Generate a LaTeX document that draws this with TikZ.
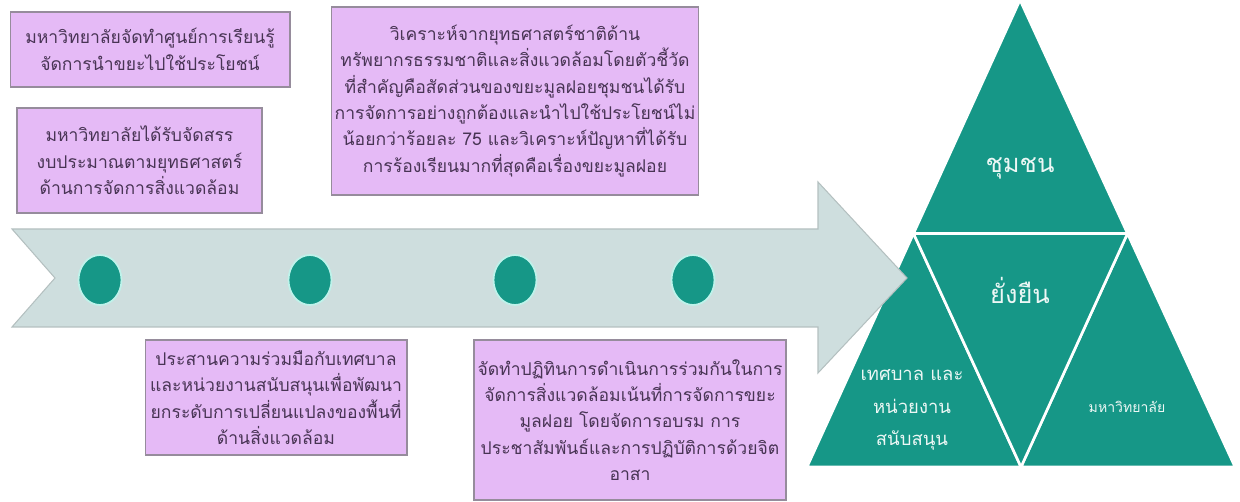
\documentclass[tikz,border=0pt]{standalone}
\usepackage{fontspec}
\newfontfamily\thaifont[Script=Thai]{Loma}
\usetikzlibrary{positioning,shapes.geometric}
\definecolor{cBox}{RGB}{229,186,246}
\definecolor{cBoxLine}{RGB}{150,140,156}
\definecolor{cText}{RGB}{72,52,84}
\definecolor{cTeal}{RGB}{22,151,135}
\definecolor{cRing}{RGB}{190,242,234}
\definecolor{cArrow}{RGB}{206,222,222}
\definecolor{cArrowLine}{RGB}{180,192,192}

\begin{document}
\begin{tikzpicture}[x=0.02cm,y=-0.02cm,
   plan/.style={draw=cBoxLine,fill=cBox,line width=0.6pt,align=center,text=cText,inner sep=2pt,
     font=\thaifont\fontsize{10}{15}\selectfont},
   milestone/.style={ellipse,draw=cRing,fill=cTeal,line width=1pt,minimum width=0.86cm,minimum height=1cm,inner sep=0pt},
   tri/.style={fill=cTeal,draw=white,line width=1.5pt,line join=miter},
   lbl/.style={text=white!92!cTeal,align=center,font=\thaifont\fontsize{14.5}{19}\selectfont}]
  \useasboundingbox (0,0) rectangle (1240,502);
  % Pyramid
  \coordinate (top) at (1020,0);
  \coordinate (bl) at (807,467);
  \coordinate (br) at (1235,467);
  \coordinate (ml) at (913.5,233.5);
  \coordinate (mr) at (1127.5,233.5);
  \coordinate (mb) at (1021,467);
  \draw[tri] (top) -- (ml) -- (mr) -- cycle;
  \draw[tri] (ml) -- (bl) -- (mb) -- cycle;
  \draw[tri] (mr) -- (mb) -- (br) -- cycle;
  \draw[tri] (ml) -- (mr) -- (mb) -- cycle;
  \node[lbl] (comm) at (1020,168) {ชุมชน};
  \node[lbl] (sust) at (1020,290) {ยั่งยืน};
  \node[lbl,font=\thaifont\fontsize{10.5}{18.5}\selectfont] (muni) at (912,410) {เทศบาล และ\\หน่วยงาน\\สนับสนุน};
  \node[lbl,font=\thaifont\fontsize{8}{10}\selectfont] (univ) at (1127,407) {มหาวิทยาลัย};
  % Timeline arrow
  \draw[fill=cArrow,draw=cArrowLine,line width=0.6pt]
    (12,229) -- (818,229) -- (818,182) -- (907,278) -- (818,373) -- (818,327) -- (12,327) -- (55,278) -- cycle;
  \foreach \x [count=\i] in {100,310,515,693}
    \node[milestone] (m\i) at (\x,280) {};
  % Steps above
  \node[plan,minimum width=5.6cm,minimum height=1.5cm] (s1) at (150,49.5)
    {มหาวิทยาลัยจัดทำศูนย์การเรียนรู้\\จัดการนำขยะไปใช้ประโยชน์};
  \node[plan,minimum width=4.9cm,minimum height=2.1cm] (s2) at (139.5,160.5)
    {มหาวิทยาลัยได้รับจัดสรร\\งบประมาณตามยุทธศาสตร์\\ด้านการจัดการสิ่งแวดล้อม};
  \node[plan,minimum width=7.08cm,minimum height=3.76cm] (s3) at (515,101)
    {วิเคราะห์จากยุทธศาสตร์ชาติด้าน\\ทรัพยากรธรรมชาติและสิ่งแวดล้อมโดยตัวชี้วัด\\ที่สำคัญคือสัดส่วนของขยะมูลฝอยชุมชนได้รับ\\การจัดการอย่างถูกต้องและนำไปใช้ประโยชน์ไม่\\น้อยกว่าร้อยละ 75 และวิเคราะห์ปัญหาที่ได้รับ\\การร้องเรียนมากที่สุดคือเรื่องขยะมูลฝอย};
  % Steps below
  \node[plan,minimum width=5.24cm,minimum height=2.3cm] (s4) at (276,397.5)
    {ประสานความร่วมมือกับเทศบาล\\และหน่วยงานสนับสนุนเพื่อพัฒนา\\ยกระดับการเปลี่ยนแปลงของพื้นที่\\ด้านสิ่งแวดล้อม};
  \node[plan,minimum width=6.2cm,minimum height=3.2cm] (s5) at (630,420)
    {จัดทำปฏิทินการดำเนินการร่วมกันในการ\\จัดการสิ่งแวดล้อมเน้นที่การจัดการขยะ\\มูลฝอย โดยจัดการอบรม การ\\ประชาสัมพันธ์และการปฏิบัติการด้วยจิต\\อาสา};
\end{tikzpicture}
\end{document}
